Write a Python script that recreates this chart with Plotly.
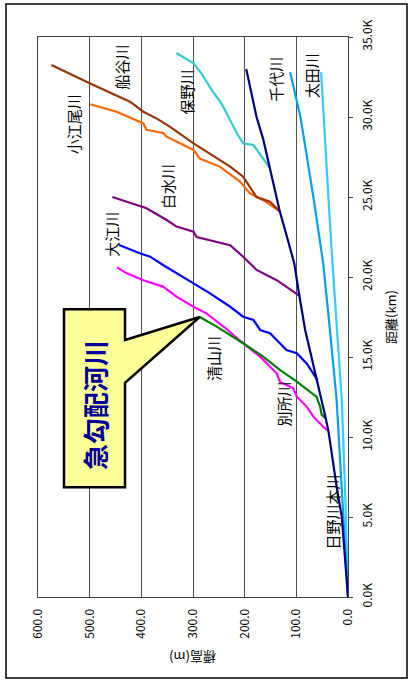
import plotly.graph_objects as go

# ---------------- data (distance km, elevation m) ----------------
hino_dist = [0, 2.75, 5.0, 6.9, 10.4, 11.3, 13.6, 15.4, 16.7, 19.0, 20.85, 22.5, 24.1, 26.9, 28.6, 30.0, 33.0]
hino_elev = [0, 6, 12, 22, 38, 44, 60, 73, 83, 95, 104, 118, 132, 152, 164, 177, 197]

chiyo_dist = [0, 6.06, 12.3, 16.7, 20.85, 25.0, 30.0, 32.8]
chiyo_elev = [0, 11, 22, 35, 48, 67, 92, 112]

ota_dist = [0, 6.06, 12.3, 16.7, 20.85, 25.0, 30.0, 32.8]
ota_elev = [0, 5, 12, 22, 30, 38, 47, 52]

matano_dist = [26.85, 27.7, 28.25, 28.35, 28.98, 29.8, 30.85, 31.7, 32.7, 33.35, 34.0]
matano_elev = [152, 170, 183, 203, 215, 228, 245, 264, 283, 299, 332]

koebi_dist = [24.1, 24.7, 25.0, 25.64, 26.27, 26.9, 27.6, 28.35, 29.4, 29.9, 30.33, 30.96, 32.1, 33.25]
koebi_elev = [132, 151, 177, 190, 203, 228, 261, 299, 345, 370, 396, 422, 499, 574]

funatani_dist = [24.1, 24.8, 25.23, 25.96, 26.9, 27.4, 27.94, 28.77, 29.0, 29.2, 29.6, 30.33, 30.8]
funatani_elev = [132, 164, 190, 209, 248, 287, 299, 351, 358, 390, 396, 448, 499]

shirouzu_dist = [18.8, 19.4, 19.8, 20.44, 21.27, 21.99, 22.5, 22.83, 23.15, 23.56, 24.3, 24.7, 25.0]
shirouzu_elev = [93, 119, 138, 177, 203, 228, 293, 299, 332, 351, 390, 428, 456]

oe_dist = [13.56, 14.6, 15.23, 15.44, 16.48, 16.69, 17.31, 17.52, 18.14, 18.98, 19.6, 20.23, 20.75, 21.27, 21.48, 22.0]
oe_elev = [59, 80, 99, 119, 151, 170, 183, 203, 228, 267, 299, 332, 358, 383, 403, 443]

bessho_dist = [10.39, 10.64, 11.27, 11.9, 12.52, 13.04, 13.46, 13.98, 15.02, 15.86, 16.75, 17.73, 18.14, 18.77, 19.4, 19.8, 20.23, 20.6]
bessho_elev = [38, 48, 67, 80, 99, 106, 132, 138, 170, 203, 235, 274, 299, 332, 358, 396, 428, 447]

seiyama_dist = [11.17, 11.4, 11.9, 12.52, 12.83, 13.46, 14.19, 15.02, 15.86, 16.9, 17.5]
seiyama_elev = [44, 51, 54, 61, 74, 99, 132, 164, 203, 254, 287]

elev_ticks = [0, 100, 200, 300, 400, 500, 600]
elev_ticktext = ["0.0", "100.0", "200.0", "300.0", "400.0", "500.0", "600.0"]
dist_ticks = [0, 5, 10, 15, 20, 25, 30, 35]
dist_ticktext = ["0.0K", "5.0K", "10.0K", "15.0K", "20.0K", "25.0K", "30.0K", "35.0K"]

river_names = ["小江尾川", "船谷川", "保野川", "千代川", "太田川", "白水川", "大江川", "清山川", "別所川", "日野川本川"]
callout_text = "急勾配河川"

# ---------------- styling ----------------
FONT = "Noto Sans CJK JP, Noto Sans, sans-serif"
series = [
    (ota_dist, ota_elev, "#33CCFF"),
    (chiyo_dist, chiyo_elev, "#00A2EA"),
    (matano_dist, matano_elev, "#33CCCC"),
    (funatani_dist, funatani_elev, "#FF6600"),
    (koebi_dist, koebi_elev, "#993300"),
    (shirouzu_dist, shirouzu_elev, "#800080"),
    (oe_dist, oe_elev, "#0000FF"),
    (bessho_dist, bessho_elev, "#FF00FF"),
    (seiyama_dist, seiyama_elev, "#008000"),
    (hino_dist, hino_elev, "#000080"),
]

fig = go.Figure()
for d, e, c in series:
    fig.add_trace(go.Scatter(x=e, y=d, mode="lines", line=dict(color=c, width=2.2), hoverinfo="skip", showlegend=False))

# label positions (elevation, distance)
label_pos = [(532, 29.56), (438, 33.14), (312, 31.58), (141, 32.34), (70, 32.6),
             (348, 25.64), (457, 22.69), (259, 14.88), (125, 12.06), (30, 5.31)]
annotations = []
for name, (ex, dy) in zip(river_names, label_pos):
    annotations.append(dict(x=ex, y=dy, xref="x", yref="y", text=name, showarrow=False,
                            xanchor="center", yanchor="middle",
                            textangle=-90, font=dict(family=FONT, size=15, color="black")))

annotations.append(dict(x=0.5, y=-0.109, xref="paper", yref="paper", text="標高(m)", showarrow=False,
                        xanchor="center", yanchor="middle",
                        textangle=180, font=dict(family=FONT, size=13, color="black")))
annotations.append(dict(x=1.1355, y=0.5, xref="paper", yref="paper", text="距離(km)", showarrow=False,
                        xanchor="center", yanchor="middle",
                        textangle=-90, font=dict(family=FONT, size=13, color="black")))

# callout box
bx0, bx1 = 549.7, 431.6       # elevation extents of box
by0, by1 = 6.86, 17.98        # distance extents of box
tb0, tb1 = 13.39, 16.06       # tail base
tipx, tipy = seiyama_elev[-1], seiyama_dist[-1]
path = (f"M {bx0},{by1} L {bx1},{by1} L {bx1},{tb1} L {tipx},{tipy} L {bx1},{tb0} "
        f"L {bx1},{by0} L {bx0},{by0} Z")
shapes = [
    dict(type="path", path=path, xref="x", yref="y", fillcolor="#FFFF99",
         line=dict(color="black", width=2.5), layer="above"),
    dict(type="rect", xref="paper", yref="paper", x0=-0.1032, x1=1.1903, y0=-0.1446, y1=1.0589,
         line=dict(color="black", width=1.5), fillcolor="rgba(0,0,0,0)", layer="below"),
]
annotations.append(dict(x=(bx0 + bx1) / 2, y=(by0 + by1) / 2 - 0.45, xref="x", yref="y", text=f"<b>{callout_text}</b>",
                        showarrow=False, xanchor="center", yanchor="middle",
                        textangle=-90, font=dict(family=FONT, size=26, color="#000099")))

fig.update_layout(
    width=412, height=688,
    margin=dict(l=38, r=64, t=37, b=91, autoexpand=False),
    paper_bgcolor="white", plot_bgcolor="white",
    showlegend=False,
    shapes=shapes, annotations=annotations,
    xaxis=dict(range=[600, 0], tickvals=elev_ticks, ticktext=elev_ticktext, tickangle=-90,
               showgrid=True, gridcolor="#505050", gridwidth=1, zeroline=False,
               showline=True, linecolor="#404040", linewidth=1, mirror=True, ticks="",
               automargin=False,
               ticklabelstandoff=6, tickfont=dict(family=FONT, size=12, color="black")),
    yaxis=dict(range=[0, 35], tickvals=dist_ticks, ticktext=dist_ticktext, tickangle=-90, side="right",
               showgrid=False, zeroline=False, showline=True, linecolor="#404040", linewidth=1, mirror=True,
               ticks="outside", ticklen=4, tickcolor="#404040", ticklabelstandoff=5, automargin=False,
               tickfont=dict(family=FONT, size=12, color="black")),
)

fig.write_html("out.html", config={"displayModeBar": False},
               post_script="document.body.style.margin='0';document.body.style.overflow='hidden';")
